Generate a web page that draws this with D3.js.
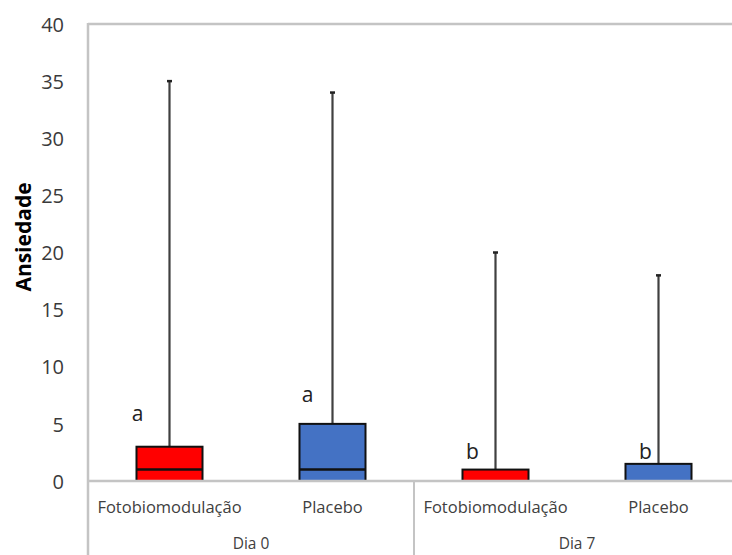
<!DOCTYPE html>
<html>
<head>
<meta charset="utf-8">
<script src="https://cdn.jsdelivr.net/npm/d3@7"></script>
<style>
  html, body { margin: 0; padding: 0; background: #fff; }
  svg { display: block; }
  text { font-family: "Open Sans", "Liberation Sans", sans-serif; }
</style>
</head>
<body>
<svg id="chart" width="732" height="555"></svg>
<script>
// Box-plot summary per group (Ansiedade score)
const groups      = ["Dia 0", "Dia 7"];
const treatments  = ["Fotobiomodulação", "Placebo", "Fotobiomodulação", "Placebo"];
const groupOf     = ["Dia 0", "Dia 0", "Dia 7", "Dia 7"];
const q1Values    = [0, 0, 0, 0];
const medianVals  = [1, 1, 0, 0];
const q3Values    = [3, 5, 1, 1.5];
const maxValues   = [35, 34, 20, 18];
const letters     = ["a", "a", "b", "b"];
const yTicks      = [0, 5, 10, 15, 20, 25, 30, 35, 40];
const boxColors   = ["#ff0000", "#4472c4", "#ff0000", "#4472c4"];

(function draw() {
  const svg = d3.select("#chart");
  const left = 88, right = 740, plotTop = 24, plotBottom = 481, H = 555;

  const x = d3.scaleBand().domain(d3.range(treatments.length)).range([left, right]).paddingInner(0).paddingOuter(0);
  const y = d3.scaleLinear().domain([0, 40]).range([plotBottom, plotTop]);
  const boxW = x.bandwidth() * 0.405;

  const frame = "#c4c4c4";

  // plot frame: top border, left border (runs down through the category area)
  svg.append("line").attr("x1", left).attr("x2", right).attr("y1", plotTop).attr("y2", plotTop)
    .attr("stroke", frame).attr("stroke-width", 2.5);
  svg.append("line").attr("x1", left).attr("x2", left).attr("y1", plotTop - 1).attr("y2", H)
    .attr("stroke", frame).attr("stroke-width", 2.5);

  // y axis labels
  const yAxis = d3.axisLeft(y).tickValues(yTicks).tickSize(0).tickPadding(0);
  const yg = svg.append("g").attr("transform", "translate(64,0)").call(yAxis);
  yg.select(".domain").remove();
  yg.selectAll("text").attr("font-size", 20).attr("fill", "#3a3a3a")
    .attr("font-family", "'Open Sans', sans-serif").attr("dy", "0.36em");

  // y title
  svg.append("text").attr("transform", "translate(31,237) rotate(-90)")
    .attr("text-anchor", "middle").attr("font-size", 21).attr("font-weight", "bold")
    .attr("fill", "#000").text("Ansiedade");

  const idx = d3.range(treatments.length);
  const cx = i => x(i) + x.bandwidth() / 2;

  // whiskers
  svg.append("g").selectAll("line").data(idx).join("line")
    .attr("x1", cx).attr("x2", cx)
    .attr("y1", i => y(q3Values[i])).attr("y2", i => y(maxValues[i]))
    .attr("stroke", "#404040").attr("stroke-width", 2.2);
  svg.append("g").selectAll("line").data(idx).join("line")
    .attr("x1", i => cx(i) - 2.5).attr("x2", i => cx(i) + 2.5)
    .attr("y1", i => y(maxValues[i])).attr("y2", i => y(maxValues[i]))
    .attr("stroke", "#222").attr("stroke-width", 2.5);

  // boxes
  svg.append("g").selectAll("rect").data(idx).join("rect")
    .attr("x", i => cx(i) - boxW / 2).attr("width", boxW)
    .attr("y", i => y(q3Values[i])).attr("height", i => y(q1Values[i]) - y(q3Values[i]))
    .attr("fill", i => boxColors[i]).attr("stroke", "#111").attr("stroke-width", 2);

  // medians
  svg.append("g").selectAll("line").data(idx.filter(i => medianVals[i] > q1Values[i])).join("line")
    .attr("x1", i => cx(i) - boxW / 2).attr("x2", i => cx(i) + boxW / 2)
    .attr("y1", i => y(medianVals[i])).attr("y2", i => y(medianVals[i]))
    .attr("stroke", "#111").attr("stroke-width", 2.5);

  // axis baseline drawn over box bottoms
  svg.append("line").attr("x1", left).attr("x2", right).attr("y1", plotBottom).attr("y2", plotBottom)
    .attr("stroke", frame).attr("stroke-width", 2.5);
  // divider between day groups
  const groupEdge = x(2);
  svg.append("line").attr("x1", groupEdge).attr("x2", groupEdge).attr("y1", plotBottom).attr("y2", H)
    .attr("stroke", frame).attr("stroke-width", 2);

  // significance letters, nudged left of each whisker and above the box
  const letterDx = [-32, -25, -23, -13];
  const letterLift = [26, 22, 11, 5];
  svg.append("g").selectAll("text").data(idx).join("text")
    .attr("x", i => cx(i) + letterDx[i])
    .attr("y", i => y(q3Values[i]) - letterLift[i])
    .attr("text-anchor", "middle").attr("font-size", 21).attr("fill", "#222")
    .text(i => letters[i]);

  // treatment labels
  svg.append("g").selectAll("text").data(idx).join("text")
    .attr("x", cx).attr("y", 513).attr("text-anchor", "middle")
    .attr("font-size", 16.5).attr("fill", "#404040")
    .text(i => treatments[i]);

  // day group labels
  svg.append("g").selectAll("text").data(groups).join("text")
    .attr("x", g => {
      const members = idx.filter(i => groupOf[i] === g);
      return (x(members[0]) + x(members[members.length - 1]) + x.bandwidth()) / 2;
    })
    .attr("y", 549).attr("text-anchor", "middle").attr("font-size", 15.5).attr("fill", "#404040")
    .text(g => g);
})();
</script>
</body>
</html>
